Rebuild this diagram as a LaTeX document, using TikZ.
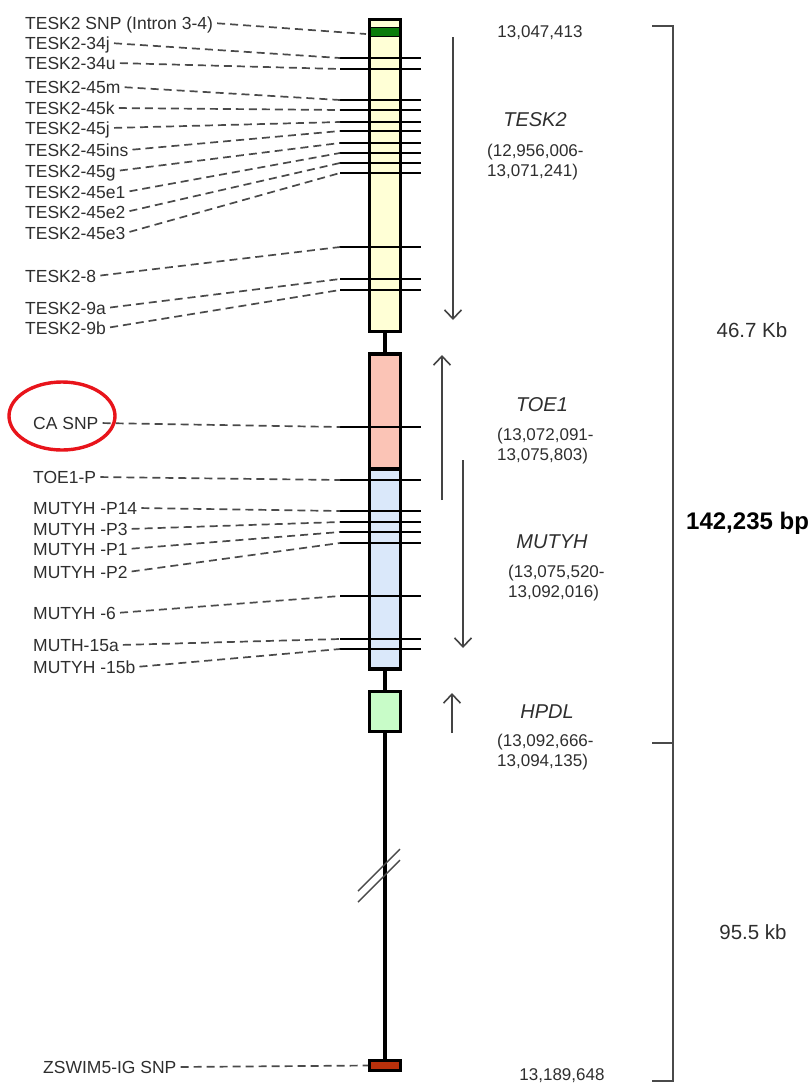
\documentclass[tikz,border=0pt]{standalone}
\usepackage{fontspec}
\setmainfont{Liberation Sans}
\usepackage{tikz}
\usetikzlibrary{arrows.meta}
\definecolor{LabelGray}{HTML}{2E2E2E}
\definecolor{LineGray}{HTML}{4A4A4A}
\definecolor{ArrowGray}{HTML}{444444}
\definecolor{TeskYellow}{HTML}{FFFFD6}
\definecolor{SnpGreen}{HTML}{0B7B0B}
\definecolor{ToeSalmon}{HTML}{FBC4B6}
\definecolor{MutyhBlue}{HTML}{DAE8FA}
\definecolor{HpdlGreen}{HTML}{C8FCC8}
\definecolor{ZswimRed}{HTML}{B8310C}
\definecolor{CircleRed}{HTML}{E8141B}

\tikzset{
    snplabel/.style={anchor=west, inner sep=0pt, text height=12.6pt, text depth=0pt,
        font=\fontsize{17.5}{20}\selectfont, text=LabelGray},
    snpline/.style={draw=LineGray, line width=1.7pt, dash pattern=on 8pt off 5pt, shorten <=4pt},
    tickmark/.style={draw=black, line width=2pt},
    genebox/.style={draw=black, line width=3.2pt, minimum width=30.5pt, inner sep=0pt},
    backbone/.style={draw=black, line width=3.6pt},
    strandarrow/.style={draw=ArrowGray, line width=1.6pt, -{Straight Barb[length=9pt, width=17pt, line width=1.6pt]}},
    genename/.style={inner sep=0pt, font=\fontsize{20}{24}\selectfont\itshape, text=LabelGray},
    generange/.style={anchor=west, align=left, inner sep=0pt, font=\fontsize{17}{20}\selectfont, text=LabelGray},
    position/.style={inner sep=0pt, font=\fontsize{17}{20}\selectfont, text=LabelGray},
    sizelabel/.style={inner sep=0pt, font=\fontsize{20.5}{24}\selectfont, text=LabelGray},
    bracketline/.style={draw=LineGray, line width=1.8pt}
}

\begin{document}
\begin{tikzpicture}[x=1pt, y=-1pt]
\useasboundingbox (0,0) rectangle (810,1085);

% gene boxes along the chromosome
\node[genebox, fill=TeskYellow, minimum height=311.5pt] (tesk2) at (385,175.5) {};
\node[genebox, fill=ToeSalmon, minimum height=115pt] (toe1) at (385,411.5) {};
\node[genebox, fill=MutyhBlue, minimum height=200pt] (mutyh) at (385,569) {};
\node[genebox, fill=HpdlGreen, minimum height=40.5pt] (hpdl) at (385,711.5) {};
\node[genebox, fill=ZswimRed, minimum height=10pt] (zswim) at (385,1065.5) {};
\node[draw=black, line width=1pt, fill=SnpGreen, minimum width=29pt, minimum height=9pt, inner sep=0pt] (snpband) at (385,32) {};

\draw[backbone] (tesk2.south) -- (toe1.north);
\draw[backbone] (mutyh.south) -- (hpdl.north);
\draw[backbone] (hpdl.south) -- (zswim.north);

% break in the chromosome
\draw[LineGray, line width=1.4pt] (358,891) -- (400,849);
\draw[LineGray, line width=1.4pt] (358,902) -- (400,860);

% SNP positions
\coordinate (kIntron) at (366,34);
\coordinate (k34j) at (340,58);
\coordinate (k34u) at (340,69);
\coordinate (k45m) at (340,100);
\coordinate (k45k) at (340,110);
\coordinate (k45j) at (340,122);
\coordinate (k45ins) at (340,131);
\coordinate (k45g) at (340,143);
\coordinate (k45e1) at (340,153);
\coordinate (k45e2) at (340,163);
\coordinate (k45e3) at (340,173);
\coordinate (k8) at (340,247);
\coordinate (k9a) at (340,279);
\coordinate (k9b) at (340,290);
\coordinate (kCA) at (340,427);
\coordinate (kToeP) at (340,480);
\coordinate (kP14) at (340,511);
\coordinate (kP3) at (340,522);
\coordinate (kP1) at (340,532);
\coordinate (kP2) at (340,543);
\coordinate (kM6) at (340,596);
\coordinate (kM15a) at (340,639);
\coordinate (kM15b) at (340,649);

\foreach \k in {k34j,k34u,k45m,k45k,k45j,k45ins,k45g,k45e1,k45e2,k45e3,k8,k9a,k9b,kCA,kToeP,kP14,kP3,kP1,kP2,kM6,kM15a,kM15b}
    \draw[tickmark] (\k) -- ++(81,0);

% SNP labels
\node[snplabel] (lIntron) at (25,23) {TESK2 SNP (Intron 3-4)};
\node[snplabel] (l34j) at (25,43) {TESK2-34j};
\node[snplabel] (l34u) at (25,63) {TESK2-34u};
\node[snplabel] (l45m) at (25,87) {TESK2-45m};
\node[snplabel] (l45k) at (25,108) {TESK2-45k};
\node[snplabel] (l45j) at (25,128) {TESK2-45j};
\node[snplabel] (l45ins) at (25,150) {TESK2-45ins};
\node[snplabel] (l45g) at (25,171) {TESK2-45g};
\node[snplabel] (l45e1) at (25,192) {TESK2-45e1};
\node[snplabel] (l45e2) at (25,212) {TESK2-45e2};
\node[snplabel] (l45e3) at (25,233) {TESK2-45e3};
\node[snplabel] (l8) at (25,276) {TESK2-8};
\node[snplabel] (l9a) at (25,308) {TESK2-9a};
\node[snplabel] (l9b) at (25,328) {TESK2-9b};
\node[snplabel] (lCA) at (33,423) {CA SNP};
\node[snplabel] (lToeP) at (33,477) {TOE1-P};
\node[snplabel] (lP14) at (33,508) {MUTYH -P14};
\node[snplabel] (lP3) at (33,529) {MUTYH -P3};
\node[snplabel] (lP1) at (33,549) {MUTYH -P1};
\node[snplabel] (lP2) at (33,572) {MUTYH -P2};
\node[snplabel] (lM6) at (33,613) {MUTYH -6};
\node[snplabel] (lM15a) at (33,645) {MUTH-15a};
\node[snplabel] (lM15b) at (33,667) {MUTYH -15b};
\node[snplabel] (lZswim) at (43,1067) {ZSWIM5-IG SNP};

\draw[snpline] (lIntron.east) -- (kIntron);
\draw[snpline] (l34j.east) -- (k34j);
\draw[snpline] (l34u.east) -- (k34u);
\draw[snpline] (l45m.east) -- (k45m);
\draw[snpline] (l45k.east) -- (k45k);
\draw[snpline] (l45j.east) -- (k45j);
\draw[snpline] (l45ins.east) -- (k45ins);
\draw[snpline] (l45g.east) -- (k45g);
\draw[snpline] (l45e1.east) -- (k45e1);
\draw[snpline] (l45e2.east) -- (k45e2);
\draw[snpline] (l45e3.east) -- (k45e3);
\draw[snpline] (l8.east) -- (k8);
\draw[snpline] (l9a.east) -- (k9a);
\draw[snpline] (l9b.east) -- (k9b);
\draw[snpline] (lCA.east) -- (kCA);
\draw[snpline] (lToeP.east) -- (kToeP);
\draw[snpline] (lP14.east) -- (kP14);
\draw[snpline] (lP3.east) -- (kP3);
\draw[snpline] (lP1.east) -- (kP1);
\draw[snpline] (lP2.east) -- (kP2);
\draw[snpline] (lM6.east) -- (kM6);
\draw[snpline] (lM15a.east) -- (kM15a);
\draw[snpline] (lM15b.east) -- (kM15b);
\draw[snpline] (lZswim.east) -- (zswim.west);

% highlight
\draw[CircleRed, line width=3.4pt] (62,416) ellipse [x radius=53, y radius=34];

% strand arrows
\coordinate (teskA) at (453,37);
\coordinate (teskB) at (453,320);
\coordinate (toeA) at (442,500);
\coordinate (toeB) at (442,355);
\coordinate (mutyhA) at (463,460);
\coordinate (mutyhB) at (463,648);
\coordinate (hpdlA) at (452,733);
\coordinate (hpdlB) at (452,693);
\draw[strandarrow] (teskA) -- (teskB);
\draw[strandarrow] (toeA) -- (toeB);
\draw[strandarrow] (mutyhA) -- (mutyhB);
\draw[strandarrow] (hpdlA) -- (hpdlB);

% gene names and ranges
\node[genename] (nTesk) at (535,120) {TESK2};
\node[generange] (rTesk) at (487,162) {(12,956,006-\\13,071,241)};
\node[genename] (nToe) at (542,405) {TOE1};
\node[generange] (rToe) at (497,446) {(13,072,091-\\13,075,803)};
\node[genename] (nMutyh) at (552,542) {MUTYH};
\node[generange] (rMutyh) at (508,583) {(13,075,520-\\13,092,016)};
\node[genename] (nHpdl) at (547,712) {HPDL};
\node[generange] (rHpdl) at (497,752) {(13,092,666-\\13,094,135)};

\node[position] (startPos) at (540,33) {13,047,413};
\node[position] (endPos) at (562,1076) {13,189,648};

% size bracket
\coordinate (brTopL) at (652,26);
\coordinate (brTopR) at (673,26);
\coordinate (brBotR) at (673,1081);
\coordinate (brBotL) at (652,1081);
\coordinate (brMidL) at (652,743);
\coordinate (brMidR) at (673,743);
\draw[bracketline] (brTopL) -- (brTopR) -- (brBotR) -- (brBotL);
\draw[bracketline] (brMidL) -- (brMidR);

\node[sizelabel] (kb1) at (752,330) {46.7 Kb};
\node[sizelabel] (kb2) at (753,932) {95.5 kb};
\node[anchor=west, inner sep=0pt, font=\fontsize{24}{28}\selectfont\bfseries, text=black] (total) at (686,523) {142,235 bp};
\end{tikzpicture}
\end{document}
